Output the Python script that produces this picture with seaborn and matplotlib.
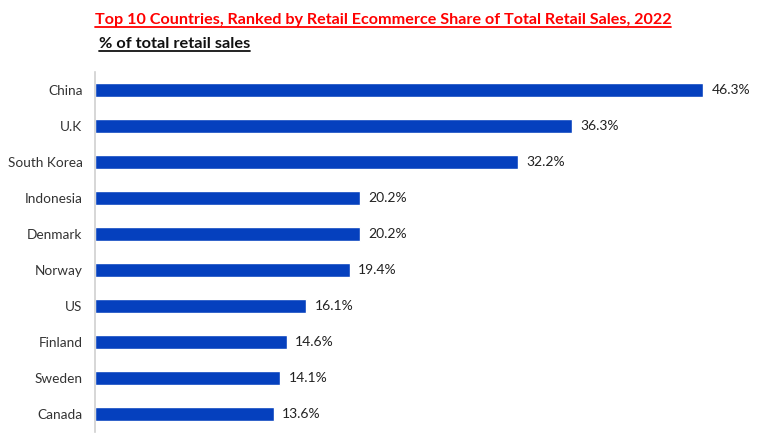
import matplotlib
matplotlib.use("Agg")
import matplotlib.pyplot as plt
import seaborn as sns
import pandas as pd

countries = ["China", "U.K", "South Korea", "Indonesia", "Denmark", "Norway", "US", "Finland", "Sweden", "Canada"]
shares = [46.3, 36.3, 32.2, 20.2, 20.2, 19.4, 16.1, 14.6, 14.1, 13.6]
value_labels = ["46.3%", "36.3%", "32.2%", "20.2%", "20.2%", "19.4%", "16.1%", "14.6%", "14.1%", "13.6%"]
title_text = "Top 10 Countries, Ranked by Retail Ecommerce Share of Total Retail Sales, 2022"
subtitle_text = "% of total retail sales"

sns.set_style("white")
plt.rcParams['font.family'] = ['Lato', 'DejaVu Sans']

df = pd.DataFrame({"country": countries, "share": shares})

fig = plt.figure(figsize=(7.68, 4.48), dpi=100)
ax = fig.add_axes([95/768, 1-432/448, 645/768, 360/448])
sns.barplot(data=df, y="country", x="share", orient="h", color="#0540BE",
            width=0.39, saturation=1, ax=ax)
ax.set_xlim(0, 49.1)
ax.set_ylim(9.5, -0.5)
ax.set_xlabel("")
ax.set_ylabel("")
ax.set_xticks([])
for s in ["top", "right", "bottom"]:
    ax.spines[s].set_visible(False)
ax.spines["left"].set_color("#d0d0d0")
ax.spines["left"].set_linewidth(1.2)
ax.tick_params(axis="y", length=0, pad=9, labelsize=9.8, labelcolor="#333333")
for i, (v, lab) in enumerate(zip(shares, value_labels)):
    ax.annotate(lab, (v, i), xytext=(6, 0), textcoords="offset points",
                va="center", ha="left", fontsize=10, color="#222222")

t1 = fig.text(383/768, 1-20/448, title_text, ha="center", va="center",
              color="#ff0000", fontsize=11.6, fontweight="bold")
t2 = fig.text(99/768, 1-44/448, subtitle_text, ha="left", va="center",
              color="#111111", fontsize=11.8, fontweight="bold")

fig.canvas.draw()
r = fig.canvas.get_renderer()
for t, c in [(t1, "#ff0000"), (t2, "#111111")]:
    bb = t.get_window_extent(r).transformed(fig.transFigure.inverted())
    fig.add_artist(plt.Line2D([bb.x0, bb.x1], [bb.y0 + 0.001, bb.y0 + 0.001],
                              transform=fig.transFigure, color=c, lw=1.3))

fig.savefig("out.png", dpi=100)
